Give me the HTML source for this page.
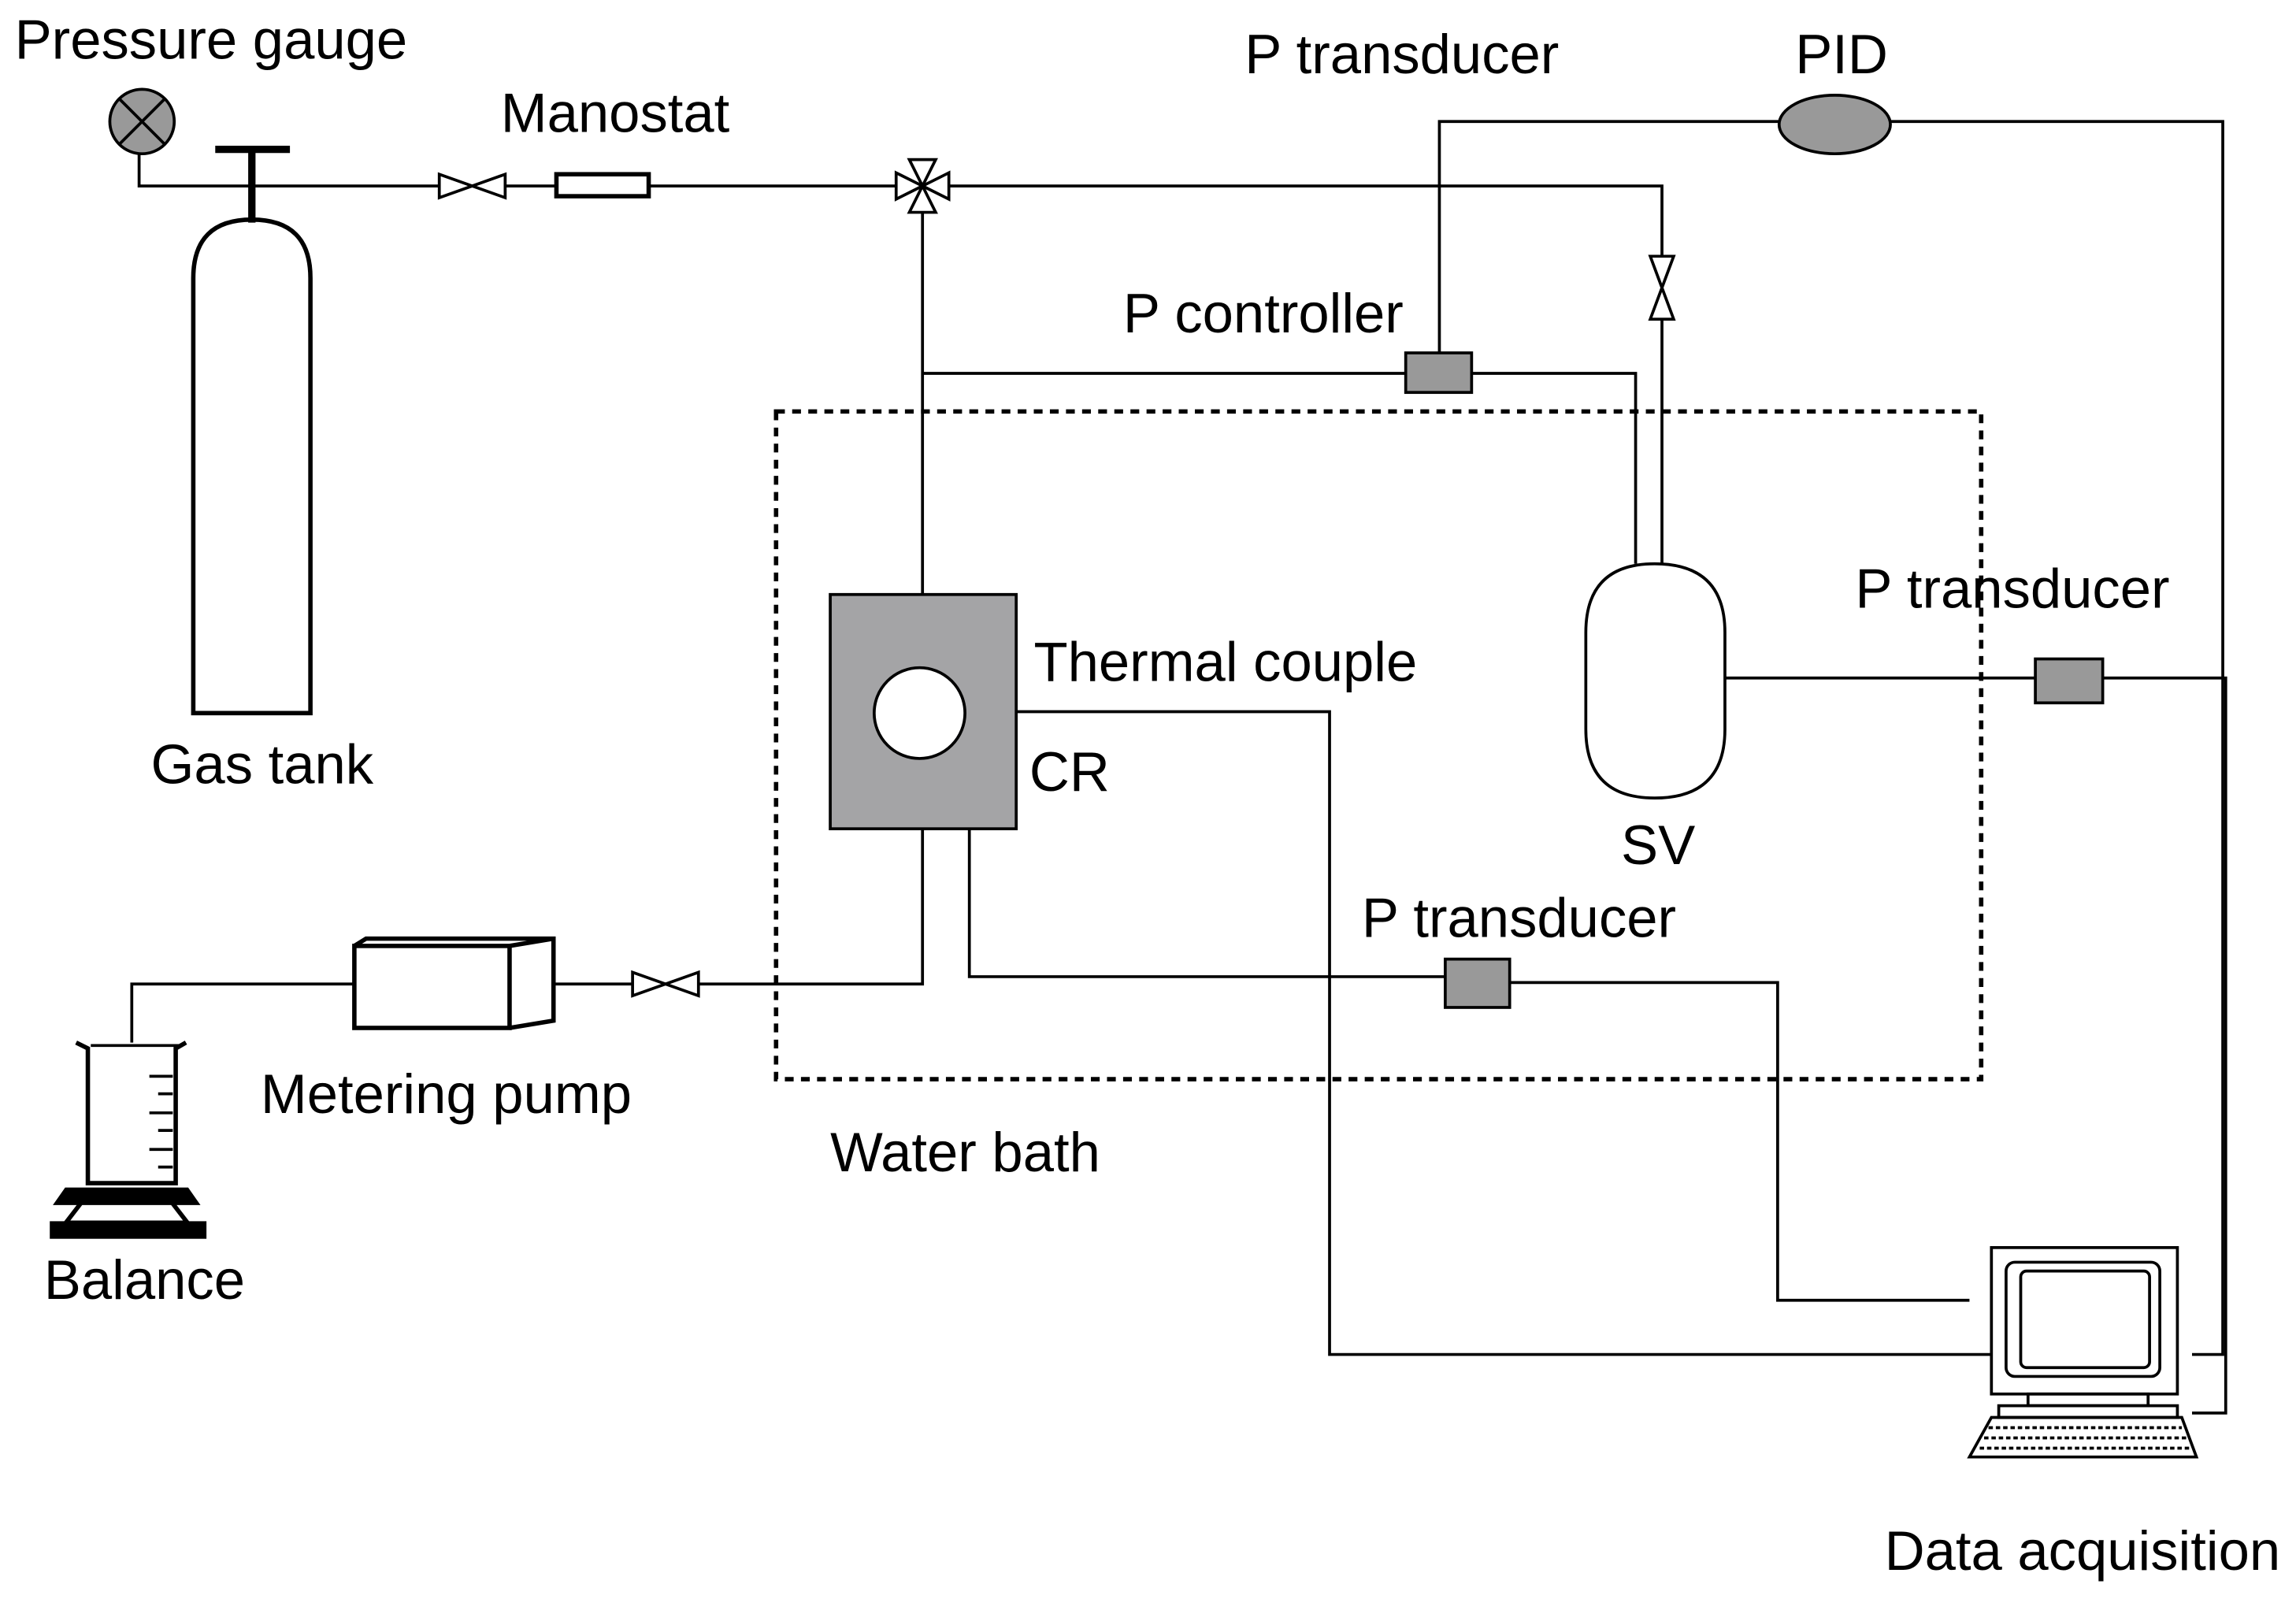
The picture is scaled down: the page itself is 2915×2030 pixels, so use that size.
<!DOCTYPE html>
<html><head><meta charset="utf-8"><style>
html,body{margin:0;padding:0;background:#fff;}
svg{display:block;}
text{font-family:"Liberation Sans",sans-serif;font-size:38px;fill:#000;}
</style></head><body>
<svg width="2915" height="2030" viewBox="0 0 1568 1092" preserveAspectRatio="none" xmlns="http://www.w3.org/2000/svg">
<g fill="none" stroke="#000" stroke-width="2">
<circle cx="97" cy="83" r="22" fill="#999"/>
<line x1="82" y1="68" x2="112" y2="98"/><line x1="112" y1="68" x2="82" y2="98"/>
<polyline points="95,105 95,127 300,127"/>
<line x1="147" y1="102" x2="198" y2="102" stroke-width="5"/>
<line x1="172" y1="102" x2="172" y2="152" stroke-width="5"/>
<path d="M132,487 V190 Q132,150 172,150 Q212,150 212,190 V487 Z" stroke-width="3"/>
<path d="M300,119 L345,135 L345,119 L300,135 Z"/>
<line x1="345" y1="127" x2="380" y2="127"/>
<rect x="380" y="119" width="63" height="15" stroke-width="3"/>
<line x1="443" y1="127" x2="612" y2="127"/>
<path d="M612,118 L630,127 L612,136 Z M648,118 L630,127 L648,136 Z M621,145 L630,127 L639,145 Z M621,109 L630,127 L639,109 Z"/>
<polyline points="648,127 1135,127 1135,175"/>
<path d="M1127,175 L1143,218 L1127,218 L1143,175 Z"/>
<line x1="1135" y1="218" x2="1135" y2="385"/>
<line x1="630" y1="145" x2="630" y2="406"/>
<line x1="630" y1="255" x2="960" y2="255"/>
<rect x="960" y="241" width="45" height="27" fill="#999"/>
<polyline points="1005,255 1117,255 1117,385"/>
<polyline points="983,241 983,83 1215,83"/>
<ellipse cx="1253" cy="85" rx="38" ry="20" fill="#999"/>
<polyline points="1291,83 1518,83 1518,925 1497,925"/>
<rect x="530" y="281" width="823" height="456" stroke-width="3" stroke-dasharray="6,5"/>
<rect x="567" y="406" width="127" height="160" fill="#a4a4a6"/>
<circle cx="628" cy="487" r="31" fill="#fff"/>
<polyline points="694,486 908,486 908,925 1360,925"/>
<path d="M1083,432 Q1083,385 1130,385 Q1178,385 1178,432 V498 Q1178,545 1130,545 Q1083,545 1083,498 Z" fill="#fff"/>
<line x1="1178" y1="463" x2="1390" y2="463"/>
<rect x="1390" y="450" width="46" height="30" fill="#999"/>
<polyline points="1436,463 1520,463 1520,965 1497,965"/>
<polyline points="630,566 630,672 477,672"/>
<path d="M432,664 L477,680 L477,664 L432,680 Z"/>
<line x1="432" y1="672" x2="378" y2="672"/>
<polyline points="662,566 662,667 987,667"/>
<rect x="987" y="655" width="44" height="33" fill="#999"/>
<polyline points="1031,671 1214,671 1214,888 1345,888"/>
<rect x="242" y="646" width="106" height="56" stroke-width="3"/>
<path d="M242,646 L250,641 L378,641 L378,697 L348,702 M348,646 L378,641" stroke-width="3"/>
<polyline points="242,672 90,672 90,712"/>
<path d="M52,712 L60,716 V808 H120 V716 L127,712" stroke-width="3"/>
<path d="M62,714 H124" />
<path d="M102,735 H118 M108,747 H118 M102,760 H118 M108,772 H118 M102,785 H118 M108,797 H118" />
<path d="M45,812 H128 L135,822 H38 Z" fill="#000"/>
<path d="M55,822 L45,835 H128 L118,822" stroke-width="3"/>
<rect x="35" y="835" width="105" height="10" fill="#000"/>
<rect x="1360" y="852" width="127" height="100" stroke-width="2"/>
<rect x="1370" y="862" width="105" height="78" rx="6"/>
<rect x="1380" y="868" width="88" height="66" rx="4"/>
<rect x="1385" y="952" width="82" height="8"/>
<rect x="1365" y="960" width="122" height="8"/>
<path d="M1360,968 H1490 L1500,995 H1345 Z"/>
<path d="M1358,975 H1490 M1355,982 H1493 M1352,989 H1496" stroke-dasharray="3,2"/>
</g>
<text x="10" y="40">Pressure gauge</text>
<text x="342" y="90">Manostat</text>
<text x="850" y="50">P transducer</text>
<text x="1226" y="50">PID</text>
<text x="767" y="227">P controller</text>
<text x="103" y="535">Gas tank</text>
<text x="706" y="465">Thermal couple</text>
<text x="703" y="540">CR</text>
<text x="1267" y="415">P transducer</text>
<text x="1107" y="590">SV</text>
<text x="930" y="640">P transducer</text>
<text x="178" y="760">Metering pump</text>
<text x="567" y="800">Water bath</text>
<text x="30" y="887">Balance</text>
<text x="1287" y="1072">Data acquisition</text>
</svg>
</body></html>
